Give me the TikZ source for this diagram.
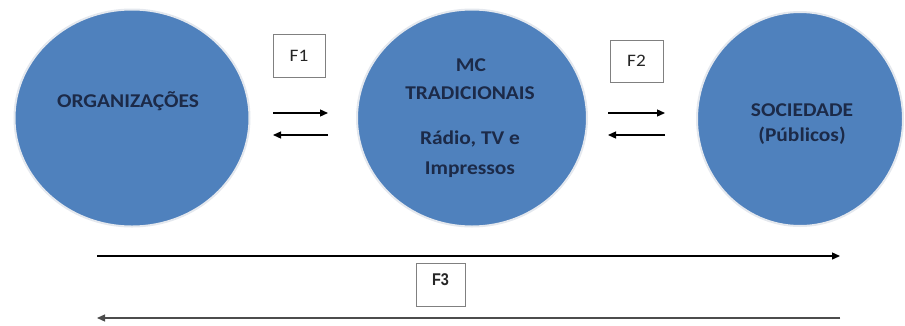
\documentclass[tikz,border=0pt]{standalone}
\usepackage{fontspec}
\setmainfont{Carlito}[FakeStretch=1.1]
\newfontfamily\fthree{Liberation Sans}[FakeStretch=0.85]
\usetikzlibrary{shapes.geometric,arrows.meta}
\definecolor{bubble}{HTML}{4F81BD}
\definecolor{ink}{HTML}{1C2A48}
\definecolor{ring}{HTML}{E4E8EE}
\tikzset{
  bubble/.style={ellipse, fill=bubble, draw=ring, line width=2pt, inner sep=0pt},
  lbl/.style={text=ink, font=\fontsize{19.5}{21}\selectfont\bfseries, inner sep=0pt, anchor=center},
  fbox/.style={draw=black!50, line width=1pt, fill=white, text=black!85, font=\fontsize{17.5}{18}\selectfont, inner sep=0pt},
  flow/.style={line width=1.3pt, -{Triangle[length=8pt,width=7pt]}},
}
\begin{document}
\begin{tikzpicture}[x=1pt,y=-1pt]
\useasboundingbox (0,0) rectangle (905,325);
% circles
\node[bubble, minimum width=235pt, minimum height=217pt] (org) at (132,118) {};
\node[bubble, minimum width=230pt, minimum height=217pt] (mc) at (472,118) {};
\node[bubble, minimum width=206pt, minimum height=214pt] (soc) at (800,119) {};
% texts
\node[lbl] (torg) at (128,101) {ORGANIZAÇÕES};
\node[lbl] (tmc1) at (471,65) {MC};
\node[lbl] (tmc2) at (470,93) {TRADICIONAIS};
\node[lbl] (tmc3) at (470,139) {Rádio, TV e};
\node[lbl] (tmc4) at (470,170) {Impressos};
\node[lbl] (tsoc1) at (802,110) {SOCIEDADE};
\node[lbl] (tsoc2) at (802,136) {(Públicos)};
% label boxes
\node[fbox, minimum width=52pt, minimum height=43pt] (f1) at (299,55.5) {F1};
\node[fbox, minimum width=53pt, minimum height=42pt] (f2) at (636.5,61) {F2};
\node[fbox, minimum width=49pt, minimum height=43pt, text depth=9pt, font=\fthree\bfseries\fontsize{17}{18}\selectfont] (f3) at (440.5,284.5) {F3};
% arrow endpoints
\coordinate (a1) at (273,113); \coordinate (b1) at (328,113);
\coordinate (a2) at (273,135); \coordinate (b2) at (328,135);
\coordinate (c1) at (608,113); \coordinate (d1) at (665,113);
\coordinate (c2) at (608,135); \coordinate (d2) at (665,135);
\coordinate (e1) at (97,256);  \coordinate (g1) at (840,256);
\coordinate (e2) at (97,318);  \coordinate (g2) at (840,318);
\draw[flow] (a1) -- (b1);
\draw[flow] (b2) -- (a2);
\draw[flow] (c1) -- (d1);
\draw[flow] (d2) -- (c2);
\draw[flow] (e1) -- (g1);
\draw[flow, draw=black!70, fill=black!70] (g2) -- (e2);
\end{tikzpicture}
\end{document}
